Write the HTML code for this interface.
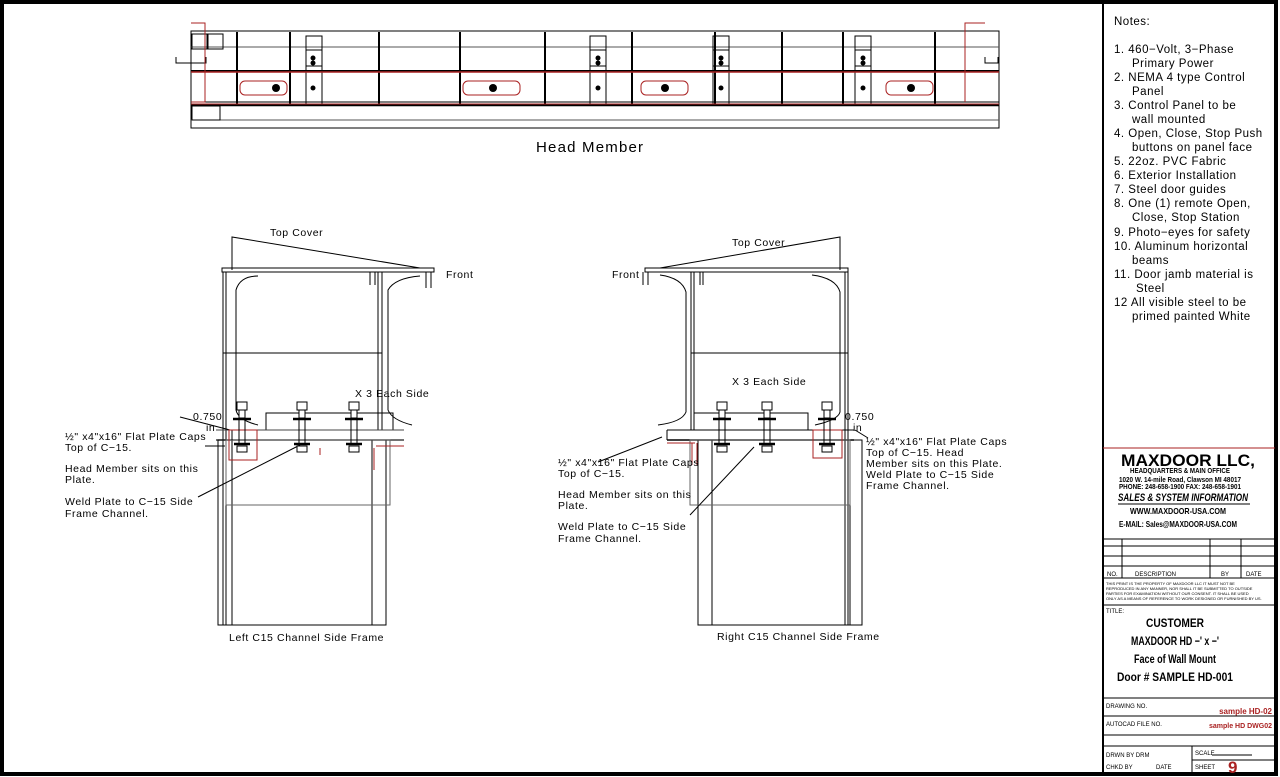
<!DOCTYPE html>
<html><head><meta charset="utf-8"><style>
html,body{margin:0;padding:0;background:#fff}
svg{display:block}
text{font-family:"Liberation Sans",sans-serif;fill:#000}
.d text{letter-spacing:0.6px}
</style></head><body>
<svg width="1280" height="777" viewBox="0 0 1280 777" xmlns="http://www.w3.org/2000/svg">
<defs>
<g id="bolt" fill="#fff" stroke="#000" stroke-width="1">
<rect x="-5" y="0" width="10" height="8"/>
<rect x="-3" y="8" width="6" height="8"/>
<line x1="-9" y1="17" x2="9" y2="17" stroke-width="2.5"/>
<line x1="-3" y1="17" x2="-3" y2="42"/><line x1="3" y1="17" x2="3" y2="42"/>
<line x1="-8" y1="42" x2="8" y2="42" stroke-width="2.5"/>
<rect x="-5" y="44" width="10" height="6"/>
</g>
</defs>
<rect x="2" y="2" width="1274" height="772" fill="none" stroke="#000" stroke-width="4"/>
<line x1="1103" y1="2" x2="1103" y2="775" stroke="#000" stroke-width="2"/>

<!-- Head member -->
<g fill="none" stroke="#000" stroke-width="1">
<rect x="191" y="31" width="808" height="97"/>
<line x1="191" y1="47" x2="999" y2="47" stroke="#555"/>
<line x1="191" y1="71" x2="999" y2="71" stroke-width="2"/>
<line x1="191" y1="102" x2="999" y2="102" stroke-width="1"/>
<line x1="191" y1="105" x2="999" y2="105" stroke-width="2.5"/>
<line x1="191" y1="120" x2="999" y2="120" stroke="#555"/>
<rect x="192" y="106" width="28" height="14"/>
<rect x="192" y="34" width="15" height="15"/><rect x="208" y="34" width="15" height="15"/>
<path d="M176 57 V63 H206 V57"/>
<path d="M985 57 V63 H998 V57"/>
<line x1="237" y1="32" x2="237" y2="104" stroke-width="2"/>
<line x1="290" y1="32" x2="290" y2="104" stroke-width="2"/>
<line x1="379" y1="32" x2="379" y2="104" stroke-width="2"/>
<line x1="460" y1="32" x2="460" y2="104" stroke-width="2"/>
<line x1="545" y1="32" x2="545" y2="104" stroke-width="2"/>
<line x1="632" y1="32" x2="632" y2="104" stroke-width="2"/>
<line x1="715" y1="32" x2="715" y2="104" stroke-width="2"/>
<line x1="782" y1="32" x2="782" y2="104" stroke-width="2"/>
<line x1="843" y1="32" x2="843" y2="104" stroke-width="2"/>
<line x1="935" y1="32" x2="935" y2="104" stroke-width="2"/>
<rect x="306" y="36" width="16" height="68"/><rect x="306" y="50" width="16" height="16"/>
<rect x="590" y="36" width="16" height="68"/><rect x="590" y="50" width="16" height="16"/>
<rect x="713" y="36" width="16" height="68"/><rect x="713" y="50" width="16" height="16"/>
<rect x="855" y="36" width="16" height="68"/><rect x="855" y="50" width="16" height="16"/>
</g>
<g stroke="#a22" fill="none" stroke-width="1">
<path d="M191 23 H205 V102 H191"/>
<line x1="191" y1="72" x2="999" y2="72" stroke-width="1.5"/>
<line x1="191" y1="104" x2="999" y2="104"/>
<rect x="240" y="81" width="47" height="14" rx="5"/>
<rect x="463" y="81" width="57" height="14" rx="5"/>
<rect x="641" y="81" width="47" height="14" rx="5"/>
<rect x="886" y="81" width="47" height="14" rx="5"/>
<path d="M985 23 H965 V102"/>
</g>
<g fill="#000">
<circle cx="276" cy="88" r="4"/><circle cx="493" cy="88" r="4"/><circle cx="665" cy="88" r="4"/><circle cx="911" cy="88" r="4"/>
<circle cx="313" cy="58" r="2.5"/><circle cx="313" cy="63" r="2.5"/><circle cx="313" cy="88" r="2.5"/>
<circle cx="598" cy="58" r="2.5"/><circle cx="598" cy="63" r="2.5"/><circle cx="598" cy="88" r="2.5"/>
<circle cx="721" cy="58" r="2.5"/><circle cx="721" cy="63" r="2.5"/><circle cx="721" cy="88" r="2.5"/>
<circle cx="863" cy="58" r="2.5"/><circle cx="863" cy="63" r="2.5"/><circle cx="863" cy="88" r="2.5"/>
</g>
<text x="536" y="152" font-size="15" style="letter-spacing:1.2px">Head Member</text>

<!-- Left section -->
<g fill="none" stroke="#000" stroke-width="1">
<polyline points="232,270 232,237 420,268"/>
<rect x="222" y="268" width="212" height="4"/>
<line x1="223" y1="272" x2="223" y2="625"/><line x1="226" y1="272" x2="226" y2="625"/>
<line x1="378" y1="272" x2="378" y2="430"/><line x1="382" y1="272" x2="382" y2="430"/>
<path d="M258 276 Q240 276 236 290 V410 Q238 420 258 425"/>
<path d="M370 272 V285 M375 272 V285 M426 272 V288 M431 272 V288"/>
<path d="M420 276 Q395 278 388 290 V410 Q392 420 412 425"/>
<line x1="223" y1="353" x2="382" y2="353"/>
<rect x="266" y="413" width="127" height="17"/>
<line x1="216" y1="430" x2="404" y2="430" stroke="#444"/>
<line x1="216" y1="440" x2="404" y2="440" stroke="#444" stroke-width="1.5"/>
<rect x="218" y="440" width="14" height="185"/>
<rect x="372" y="440" width="14" height="185"/>
<rect x="226" y="440" width="164" height="65" stroke="#666"/>
<line x1="218" y1="625" x2="386" y2="625"/>
<line x1="180" y1="417" x2="230" y2="430"/>
<line x1="205" y1="446" x2="225" y2="446"/>
<line x1="198" y1="497" x2="300" y2="445"/>
<line x1="232" y1="430" x2="232" y2="440"/>
</g>
<g stroke="#a22" fill="none"><rect x="229" y="430" width="28" height="30"/><path d="M374 448 V470 M376 446 H404"/><line x1="320" y1="448" x2="320" y2="455"/></g>
<use href="#bolt" x="242" y="402"/><use href="#bolt" x="302" y="402"/><use href="#bolt" x="354" y="402"/>
<g font-size="10.5" class="d">
<text x="270" y="236">Top Cover</text>
<text x="446" y="278">Front</text>
<text x="355" y="397">X 3 Each Side</text>
<text x="193" y="420">0.750</text><text x="206" y="431">in</text>
<text x="65" y="440">½" x4"x16" Flat Plate Caps</text>
<text x="65" y="451">Top of C−15.</text>
<text x="65" y="472">Head Member sits on this</text>
<text x="65" y="483">Plate.</text>
<text x="65" y="505">Weld Plate to C−15 Side</text>
<text x="65" y="517">Frame Channel.</text>
<text x="229" y="641">Left C15 Channel Side Frame</text>
</g>

<!-- Right section -->
<g fill="none" stroke="#000" stroke-width="1">
<polyline points="840,270 840,237 660,268"/>
<rect x="645" y="268" width="203" height="4"/>
<line x1="691" y1="272" x2="691" y2="430"/><line x1="694" y1="272" x2="694" y2="430"/>
<line x1="845" y1="272" x2="845" y2="625"/><line x1="848" y1="272" x2="848" y2="625"/>
<path d="M643 272 V285 M648 272 V285 M700 272 V285 M703 272 V285"/>
<path d="M660 275 Q682 278 686 292 V412 Q682 422 658 425"/>
<path d="M812 275 Q836 278 840 292 V412 Q838 420 815 425"/>
<line x1="691" y1="353" x2="848" y2="353"/>
<rect x="694" y="413" width="114" height="17"/>
<line x1="667" y1="430" x2="854" y2="430"/>
<line x1="667" y1="440" x2="854" y2="440" stroke-width="1.5"/>
<line x1="667" y1="430" x2="667" y2="440"/>
<rect x="698" y="440" width="14" height="185"/>
<rect x="850" y="440" width="12" height="185"/>
<rect x="690" y="440" width="160" height="65" stroke="#666"/>
<line x1="698" y1="625" x2="862" y2="625"/>
<line x1="662" y1="437" x2="598" y2="462"/>
<line x1="754" y1="447" x2="690" y2="515"/>
<line x1="855" y1="430" x2="868" y2="438"/>
</g>
<g stroke="#a22" fill="none"><rect x="813" y="430" width="29" height="28"/><path d="M667 443 H695 M692 443 V465 M697 443 V465"/></g>
<use href="#bolt" x="722" y="402"/><use href="#bolt" x="767" y="402"/><use href="#bolt" x="827" y="402"/>
<g font-size="10.5" class="d">
<text x="732" y="246">Top Cover</text>
<text x="612" y="278">Front</text>
<text x="732" y="385">X 3 Each Side</text>
<text x="845" y="420">0.750</text><text x="853" y="431">in</text>
<text x="866" y="445">½" x4"x16" Flat Plate Caps</text>
<text x="866" y="456">Top of C−15. Head</text>
<text x="866" y="467">Member sits on this Plate.</text>
<text x="866" y="478">Weld Plate to C−15 Side</text>
<text x="866" y="489">Frame Channel.</text>
<text x="558" y="466">½" x4"x16" Flat Plate Caps</text>
<text x="558" y="477">Top of C−15.</text>
<text x="558" y="498">Head Member sits on this</text>
<text x="558" y="509">Plate.</text>
<text x="558" y="530">Weld Plate to C−15 Side</text>
<text x="558" y="542">Frame Channel.</text>
<text x="717" y="640">Right C15 Channel Side Frame</text>
</g>

<!-- Notes -->
<g font-size="11.5" style="letter-spacing:0.5px">
<text x="1114" y="25">Notes:</text>
<text x="1114" y="53">1. 460−Volt, 3−Phase</text><text x="1132" y="67">Primary Power</text>
<text x="1114" y="81">2. NEMA 4 type Control</text><text x="1132" y="95">Panel</text>
<text x="1114" y="109">3. Control Panel to be</text><text x="1132" y="123">wall mounted</text>
<text x="1114" y="137">4. Open, Close, Stop Push</text><text x="1132" y="151">buttons on panel face</text>
<text x="1114" y="165">5. 22oz. PVC Fabric</text>
<text x="1114" y="179">6. Exterior Installation</text>
<text x="1114" y="193">7. Steel door guides</text>
<text x="1114" y="207">8. One (1) remote Open,</text><text x="1132" y="221">Close, Stop Station</text>
<text x="1114" y="236">9. Photo−eyes for safety</text>
<text x="1114" y="250">10. Aluminum horizontal</text><text x="1132" y="264">beams</text>
<text x="1114" y="278">11. Door jamb material is</text><text x="1136" y="292">Steel</text>
<text x="1114" y="306">12 All visible steel to be</text><text x="1132" y="320">primed painted White</text>
</g>

<!-- Title block -->
<g stroke="#000" fill="none" stroke-width="1">
<line x1="1103" y1="448" x2="1275" y2="448" stroke="#a22"/>
<line x1="1103" y1="539" x2="1275" y2="539"/>
<line x1="1103" y1="546" x2="1275" y2="546"/>
<line x1="1103" y1="556" x2="1275" y2="556"/>
<line x1="1103" y1="566" x2="1275" y2="566"/>
<line x1="1103" y1="578" x2="1275" y2="578"/>
<line x1="1103" y1="605" x2="1275" y2="605"/>
<line x1="1103" y1="698" x2="1275" y2="698"/>
<line x1="1103" y1="716" x2="1275" y2="716"/>
<line x1="1103" y1="735" x2="1275" y2="735"/>
<line x1="1103" y1="746" x2="1275" y2="746"/>
<line x1="1122" y1="539" x2="1122" y2="578"/>
<line x1="1210" y1="539" x2="1210" y2="578"/>
<line x1="1241" y1="539" x2="1241" y2="578"/>
<line x1="1192" y1="746" x2="1192" y2="775"/>
<line x1="1192" y1="760" x2="1275" y2="760"/>
<line x1="1212" y1="755" x2="1252" y2="755"/>
</g>
<g font-weight="bold" text-anchor="middle">
<text x="1188" y="466" font-size="17" textLength="134" lengthAdjust="spacingAndGlyphs">MAXDOOR LLC,</text>
<text x="1180" y="473" font-size="7.5" textLength="100" lengthAdjust="spacingAndGlyphs">HEADQUARTERS &amp; MAIN OFFICE</text>
<text x="1180" y="482" font-size="7" textLength="122" lengthAdjust="spacingAndGlyphs">1020 W. 14-mile Road, Clawson MI  48017</text>
<text x="1180" y="489" font-size="7" textLength="122" lengthAdjust="spacingAndGlyphs">PHONE: 248-658-1900 FAX: 248-658-1901</text>
<text x="1183" y="501" font-size="11" font-style="italic" textLength="130" lengthAdjust="spacingAndGlyphs">SALES &amp; SYSTEM INFORMATION</text>
<text x="1178" y="514" font-size="8.5" textLength="96" lengthAdjust="spacingAndGlyphs">WWW.MAXDOOR-USA.COM</text>
<text x="1178" y="527" font-size="8.5" textLength="118" lengthAdjust="spacingAndGlyphs">E-MAIL: Sales@MAXDOOR-USA.COM</text>
<text x="1175" y="627" font-size="12" textLength="58" lengthAdjust="spacingAndGlyphs">CUSTOMER</text>
<text x="1175" y="645" font-size="12" textLength="88" lengthAdjust="spacingAndGlyphs">MAXDOOR HD −' x −'</text>
<text x="1175" y="663" font-size="12" textLength="82" lengthAdjust="spacingAndGlyphs">Face of Wall Mount</text>
<text x="1175" y="681" font-size="12" textLength="116" lengthAdjust="spacingAndGlyphs">Door # SAMPLE HD-001</text>
</g>
<line x1="1118" y1="504" x2="1250" y2="504" stroke="#000"/>
<g font-size="6">
<text x="1107" y="576">NO.</text><text x="1135" y="576">DESCRIPTION</text><text x="1221" y="576">BY</text><text x="1246" y="576">DATE</text>
<text x="1106" y="585" font-size="4">THIS PRINT IS THE PROPERTY OF MAXDOOR LLC IT MUST NOT BE</text>
<text x="1106" y="590" font-size="4">REPRODUCED IN ANY MANNER, NOR SHALL IT BE SUBMITTED TO OUTSIDE</text>
<text x="1106" y="595" font-size="4">PARTIES FOR EXAMINATION WITHOUT OUR CONSENT. IT SHALL BE USED</text>
<text x="1106" y="600" font-size="4">ONLY AS A MEANS OF REFERENCE TO WORK DESIGNED OR FURNISHED BY US.</text>
<text x="1106" y="613">TITLE:</text>
<text x="1106" y="708">DRAWING  NO.</text>
<text x="1106" y="726">AUTOCAD  FILE  NO.</text>
<text x="1106" y="757">DRWN BY DRM</text>
<text x="1106" y="769">CHKD BY</text><text x="1156" y="769">DATE</text>
<text x="1195" y="755">SCALE</text><text x="1195" y="769">SHEET</text>
</g>
<text x="1272" y="714" font-size="8" font-weight="bold" text-anchor="end" style="fill:#a22">sample HD-02</text>
<text x="1272" y="728" font-size="7" font-weight="bold" text-anchor="end" style="fill:#a22">sample HD DWG02</text>
<text x="1228" y="773" font-size="17" font-weight="bold" style="fill:#a22">9</text>
</svg>
</body></html>
